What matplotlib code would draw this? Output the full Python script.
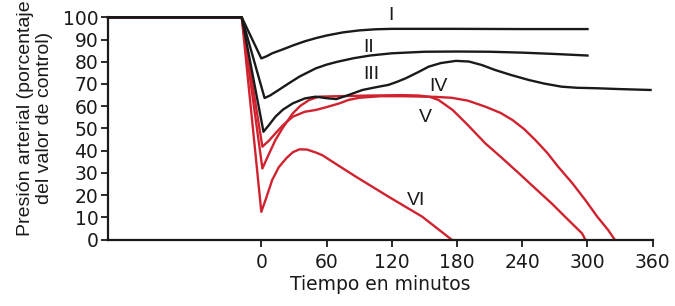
import numpy as np
import matplotlib.pyplot as plt

plt.rcParams['font.family'] = ['DejaVu Sans']

# curvas (tiempo en minutos, presion en % del control)
t_I = [-141, -18, 0, 5, 10, 20, 30, 40, 50, 60, 75, 90, 105, 120, 180, 240, 300]
p_I = [100, 100, 81.5, 82.5, 83.8, 85.6, 87.5, 89.2, 90.6, 91.8, 93.2, 94.1, 94.6, 94.8, 94.8, 94.7, 94.7]

t_II = [-141, -18, 3, 8, 15, 25, 35, 50, 60, 70, 85, 100, 120, 150, 180, 210, 240, 270, 300]
p_II = [100, 100, 63.7, 64.8, 67, 70.2, 73.3, 77, 78.7, 80, 81.6, 82.8, 83.8, 84.5, 84.6, 84.5, 84.1, 83.5, 82.8]

t_III = [-141, -18, 2, 7, 13, 20, 29, 40, 50, 60, 69, 80, 93, 105, 117, 125, 133, 145, 154, 165,
         179, 191, 203, 215, 230, 246, 260, 276, 290, 307, 330, 358]
p_III = [100, 100, 48.5, 51.5, 55.3, 58.5, 61.3, 63.5, 64.3, 63.6, 63.2, 65, 67.3, 68.5, 69.6, 71, 72.6, 75.5, 77.8, 79.4,
         80.4, 80.1, 78.5, 76.3, 74, 71.8, 70.2, 68.8, 68.3, 68.1, 67.7, 67.3]

t_IV = [-141, -18, 1, 7, 13, 20, 29, 40, 50, 60, 72, 80, 90, 110, 130, 160, 175, 190, 206, 220,
        231, 242, 252, 263, 273, 286, 298, 309, 319, 325]
p_IV = [100, 100, 41.8, 44.5, 47.8, 51.5, 55.3, 57.5, 58.3, 59.6, 61.3, 62.8, 63.8, 64.5, 64.5, 64.2, 63.8, 62.5, 59.8, 57,
        53.8, 49.6, 44.8, 39, 32.8, 25.4, 17.8, 10.3, 4.3, 0]

t_V = [-141, -18, 1, 7, 13, 20, 29, 36, 44, 53, 70, 100, 130, 145, 155, 163, 176, 190, 206, 220,
       237, 252, 267, 281, 295, 298]
p_V = [100, 100, 32, 38.5, 44.8, 50.5, 56.8, 60.2, 62.8, 64.3, 64.5, 64.8, 65, 64.8, 64.2, 62.8, 58.3, 51.5, 43.3, 37.3,
       29.8, 23, 16.3, 9.5, 2.8, 0]

t_VI = [-141, -18, 0, 4, 10, 16, 23, 29, 35, 42, 50, 56, 70, 87, 117, 148, 175]
p_VI = [100, 100, 12.5, 18, 26.8, 32.5, 36.6, 39.3, 40.6, 40.5, 39.2, 38, 33.6, 28.3, 19.3, 10.3, 0]

etiquetas = ['I', 'II', 'III', 'IV', 'V', 'VI']
etiq_x = [119, 99, 101, 163, 151, 142]
etiq_y = [101, 86.3, 74.1, 68.7, 54.7, 17.8]

rojo = '#d0222f'
negro = '#1a1a1a'

fig = plt.figure(figsize=(6.75, 3.06), dpi=100)
ax = fig.add_axes([0.16, 0.217, 0.807, 0.7265])

for t, p in [(t_IV, p_IV), (t_V, p_V), (t_VI, p_VI)]:
    ax.plot(t, p, color=rojo, lw=1.7, clip_on=False, solid_joinstyle='round')
for t, p in [(t_III, p_III), (t_II, p_II), (t_I, p_I)]:
    ax.plot(t, p, color=negro, lw=1.7, clip_on=False, solid_joinstyle='round')

for s, x, y in zip(etiquetas, etiq_x, etiq_y):
    ax.text(x, y, s, ha='center', va='center', fontsize=14, color=negro,
            family='Liberation Sans')

ax.set_xlim(-141, 360)
ax.set_ylim(0, 100)
ax.set_xticks(np.arange(0, 361, 60))
ax.set_yticks(np.arange(0, 101, 10))
ax.tick_params(labelsize=13.5, width=1.3, length=5, colors=negro)
ax.tick_params(axis='x', pad=5)
ax.tick_params(axis='y', pad=2)

for lado in ['top', 'right']:
    ax.spines[lado].set_visible(False)
for lado in ['left', 'bottom']:
    ax.spines[lado].set_linewidth(1.6)
    ax.spines[lado].set_color(negro)

ax.set_xlabel('Tiempo en minutos', fontsize=13.5, labelpad=2, color=negro)
fig.text(0.052, 0.613, 'Presión arterial (porcentaje\ndel valor de control)',
         rotation=90, ha='center', va='center', fontsize=14,
         multialignment='center', linespacing=1.2, color=negro,
         family='Liberation Sans')

fig.savefig('out.png', dpi=100)
